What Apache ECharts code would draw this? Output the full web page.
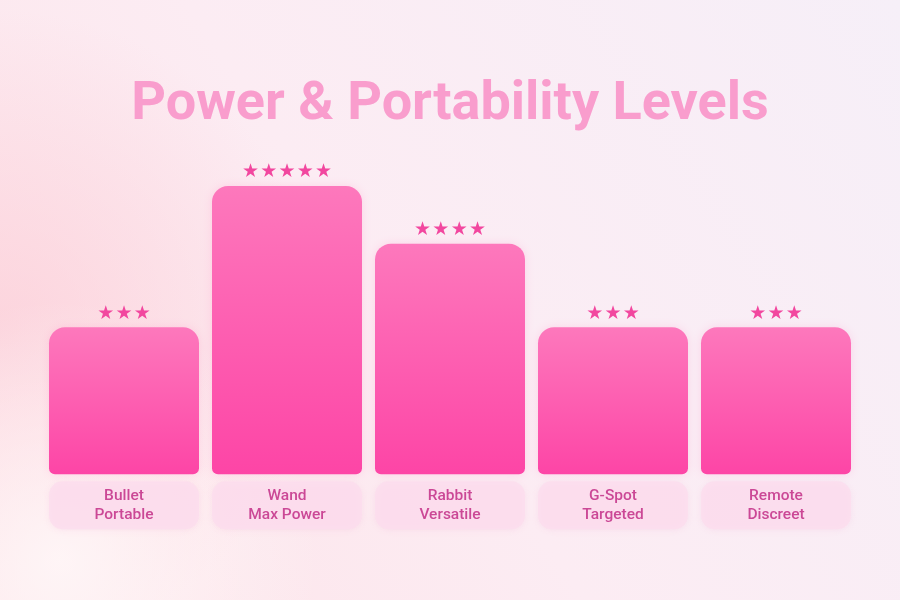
<html>
    <head>
        <meta charset="utf-8">
        <title>Power & Portability Levels</title>
        <script src="https://cdn.jsdelivr.net/npm/echarts@6/dist/echarts.min.js"></script>
        <style>
            html, body { margin: 0; padding: 0; }
            #main { width: 900px; height: 600px; }
        </style>
    </head>
    <body>
        <div id="main"></div>
        <script type="text/javascript">
            // chart data
            var categories = ['Bullet', 'Wand', 'Rabbit', 'G-Spot', 'Remote'];
            var subtitles = ['Portable', 'Max Power', 'Versatile', 'Targeted', 'Discreet'];
            var powerValues = [51, 100, 80, 51, 51];
            var starRatings = [3, 5, 4, 3, 3];

            var myChart = echarts.init(document.getElementById('main'));

            var option = {
                backgroundColor: {
                    type: 'linear', x: 0, y: 1, x2: 1, y2: 0,
                    colorStops: [
                        { offset: 0, color: '#fde3e8' },
                        { offset: 0.45, color: '#fcecf3' },
                        { offset: 1, color: '#f6eff8' }
                    ]
                },
                graphic: [
                    {
                        type: 'circle',
                        silent: true,
                        shape: { cx: 0, cy: 330, r: 320 },
                        style: {
                            fill: {
                                type: 'radial', x: 0.5, y: 0.5, r: 0.5,
                                colorStops: [
                                    { offset: 0, color: 'rgba(252,205,215,0.7)' },
                                    { offset: 1, color: 'rgba(252,205,215,0)' }
                                ]
                            }
                        }
                    },
                    {
                        type: 'circle',
                        silent: true,
                        shape: { cx: 60, cy: 560, r: 260 },
                        style: {
                            fill: {
                                type: 'radial', x: 0.5, y: 0.5, r: 0.5,
                                colorStops: [
                                    { offset: 0, color: 'rgba(255,250,250,0.8)' },
                                    { offset: 1, color: 'rgba(255,250,250,0)' }
                                ]
                            }
                        }
                    }
                ],
                title: {
                    text: 'Power & Portability Levels',
                    left: 'center',
                    top: 73,
                    textStyle: {
                        fontFamily: 'Roboto',
                        fontSize: 54,
                        fontWeight: 'bold',
                        color: '#f99dcd'
                    }
                },
                grid: {
                    left: 42.5,
                    right: 42.5,
                    top: 186,
                    bottom: 125.7
                },
                xAxis: {
                    type: 'category',
                    data: categories,
                    axisLine: { show: false },
                    axisTick: { show: false },
                    axisLabel: {
                        interval: 0,
                        margin: 7,
                        formatter: function (value, idx) {
                            return value + '\n' + subtitles[idx];
                        },
                        fontFamily: 'Roboto',
                        fontSize: 15.5,
                        fontWeight: 500,
                        color: '#cb4896',
                        lineHeight: 19,
                        width: 150,
                        align: 'center',
                        padding: [5, 0, 5, 0],
                        backgroundColor: 'rgba(252,220,237,0.75)',
                        borderRadius: 14,
                        shadowColor: 'rgba(240,160,200,0.25)',
                        shadowBlur: 6,
                        shadowOffsetY: 1
                    }
                },
                yAxis: {
                    type: 'value',
                    min: 0,
                    max: 100,
                    show: false,
                    splitLine: { show: false }
                },
                series: [
                    {
                        name: 'Power',
                        type: 'bar',
                        barWidth: 150,
                        data: powerValues,
                        itemStyle: {
                            borderRadius: [16, 16, 6, 6],
                            color: {
                                type: 'linear', x: 0, y: 0, x2: 0, y2: 1,
                                colorStops: [
                                    { offset: 0, color: '#fd78bc' },
                                    { offset: 1, color: '#fd45a6' }
                                ]
                            },
                            shadowColor: 'rgba(250,110,180,0.2)',
                            shadowBlur: 10
                        },
                        label: {
                            show: true,
                            position: 'top',
                            distance: 4,
                            formatter: function (p) {
                                var s = '';
                                for (var i = 0; i < starRatings[p.dataIndex]; i++) {
                                    s += '{s|★}';
                                }
                                return s;
                            },
                            rich: {
                                s: {
                                    width: 18.3,
                                    align: 'center',
                                    fontSize: 19,
                                    lineHeight: 19,
                                    fontFamily: 'DejaVu Sans',
                                    color: '#f2479f'
                                }
                            }
                        }
                    }
                ]
            };
            myChart.setOption(option);
        </script>
    </body>
</html>
